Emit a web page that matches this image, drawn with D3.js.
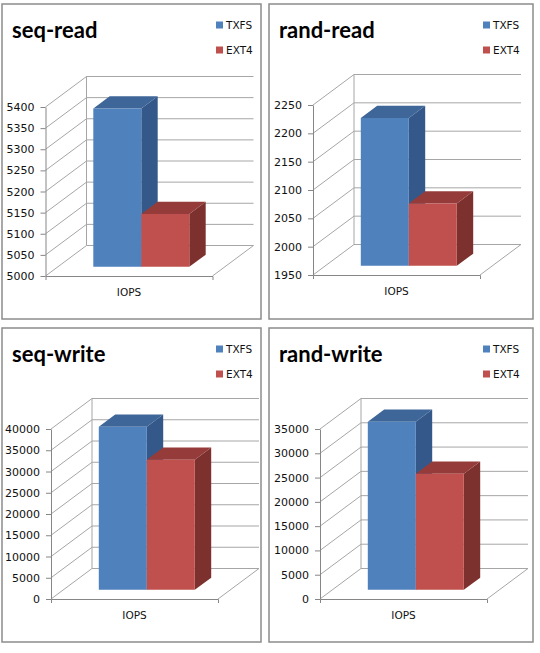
<!DOCTYPE html>
<html>
<head>
<meta charset="utf-8">
<script src="https://cdn.jsdelivr.net/npm/d3@7"></script>
<style>
  body { margin: 0; background: #fff; }
  .tick text, .legend text, .cat-axis text { font-family: "DejaVu Sans", Verdana, sans-serif; font-size: 10.5px; fill: #111; }
  .value-axis .tick text { font-size: 11px; }
  .title { font-family: Lato, "Open Sans", sans-serif; font-weight: 700; font-size: 22px; fill: #000; }
</style>
</head>
<body>
<svg id="chart" width="540" height="653"></svg>
<script>
// chart data
const titles = ["seq-read", "rand-read", "seq-write", "rand-write"];
const series = ["TXFS", "EXT4"];
const categories = ["IOPS"];
const txfsValues = [5375, 2211, 38400, 34600];
const ext4Values = [5125, 2060, 30600, 23900];
const yMins = [5000, 1950, 0, 0];
const yMaxs = [5400, 2250, 40000, 35000];
const yTickSteps = [50, 50, 5000, 5000];

// panel layout
const boxes = [
    {x: 2, y: 4, w: 259, h: 315, axisX: 43.5, top: 103, bottom: 272},
    {x: 269, y: 4, w: 264, h: 315, axisX: 44, top: 101, bottom: 271},
    {x: 2, y: 328, w: 259, h: 314, axisX: 49, top: 101, bottom: 271},
    {x: 269, y: 328, w: 264, h: 314, axisX: 51, top: 101, bottom: 271}
];
const plotW = 167,
      depthX = 41,
      depthY = 30.5,
      barFront = 0.3,
      barBack = 0.7;
const colors = {
    TXFS: {front: "#4f81bd", top: "#3e6698", side: "#35588a"},
    EXT4: {front: "#c0504d", top: "#953c3a", side: "#7d312f"}
};
const gridColor = "#a6a6a6",
      axisColor = "#868686";

const svg = d3.select("#chart");

titles.forEach((title, i) => {
    const b = boxes[i];
    const g = svg.append("g").attr("transform", `translate(${b.x}, ${b.y})`);

    g.append("rect")
        .attr("x", 0).attr("y", 0)
        .attr("width", b.w).attr("height", b.h)
        .attr("fill", "#fff")
        .attr("stroke", "#8c8c8c")
        .attr("stroke-width", 1.5);

    g.append("text")
        .attr("class", "title")
        .attr("x", 10)
        .attr("y", 34)
        .text(title);

    // legend
    const legend = g.append("g").attr("class", "legend")
        .attr("transform", "translate(214, 17.5)");
    series.forEach((s, k) => {
        legend.append("rect")
            .attr("x", 0).attr("y", k * 25)
            .attr("width", 7).attr("height", 7)
            .attr("fill", colors[s].front);
        legend.append("text")
            .attr("x", 10).attr("y", k * 25 + 7.5)
            .text(s);
    });

    const yScale = d3.scaleLinear()
        .domain([yMins[i], yMaxs[i]])
        .range([b.bottom, b.top]);
    const xScale = d3.scaleBand()
        .domain(categories)
        .range([0, plotW])
        .padding(0.27);
    const sScale = d3.scaleBand()
        .domain(series)
        .range([xScale(categories[0]), xScale(categories[0]) + xScale.bandwidth()]);
    const ticks = d3.range(yMins[i], yMaxs[i] + yTickSteps[i] / 2, yTickSteps[i]);

    const plot = g.append("g").attr("transform", `translate(${b.axisX}, 0)`);
    const walls = plot.append("g")
        .attr("fill", "none")
        .attr("stroke", gridColor)
        .attr("stroke-width", 1);

    // back wall gridlines and left wall diagonals
    ticks.forEach(t => {
        const y = yScale(t);
        walls.append("path")
            .attr("d", `M0,${y}L${depthX},${y - depthY}H${depthX + plotW}`);
    });
    // left wall back edge
    walls.append("path")
        .attr("d", `M${depthX},${yScale(yMins[i]) - depthY}V${yScale(yMaxs[i]) - depthY}`);
    // floor right edge
    walls.append("path")
        .attr("d", `M${plotW},${b.bottom}L${plotW + depthX},${b.bottom - depthY}`);

    // bars
    const pt = (x, y, z) => [x + z * depthX, y - z * depthY];
    const vals = [txfsValues[i], ext4Values[i]];
    series.forEach((s, k) => {
        const x0 = sScale(s),
              x1 = x0 + sScale.bandwidth(),
              yTop = yScale(vals[k]),
              yBot = yScale(yMins[i]);
        const poly = pts => "M" + pts.map(p => p.join(",")).join("L") + "Z";
        plot.append("path")
            .attr("d", poly([pt(x1, yBot, barFront), pt(x1, yBot, barBack), pt(x1, yTop, barBack), pt(x1, yTop, barFront)]))
            .attr("fill", colors[s].side);
        plot.append("path")
            .attr("d", poly([pt(x0, yTop, barFront), pt(x0, yTop, barBack), pt(x1, yTop, barBack), pt(x1, yTop, barFront)]))
            .attr("fill", colors[s].top);
        plot.append("path")
            .attr("d", poly([pt(x0, yBot, barFront), pt(x0, yTop, barFront), pt(x1, yTop, barFront), pt(x1, yBot, barFront)]))
            .attr("fill", colors[s].front);
    });

    // value axis
    const yAxis = d3.axisLeft(yScale)
        .tickValues(ticks)
        .tickSizeInner(5)
        .tickSizeOuter(0)
        .tickPadding(6)
        .tickFormat(d3.format("d"));
    plot.append("g").attr("class", "value-axis").call(yAxis)
        .call(a => a.selectAll("line, path").attr("stroke", axisColor))
        .call(a => a.selectAll("text").attr("font-family", null).attr("font-size", null));

    // category axis
    const xAxis = d3.axisBottom(xScale)
        .tickSizeInner(0)
        .tickSizeOuter(4)
        .tickPadding(13);
    plot.append("g").attr("class", "cat-axis")
        .attr("transform", `translate(0, ${b.bottom})`)
        .call(xAxis)
        .call(a => a.selectAll("line, path").attr("stroke", axisColor))
        .call(a => a.selectAll("text").attr("font-family", null).attr("font-size", null));
});
</script>
</body>
</html>
